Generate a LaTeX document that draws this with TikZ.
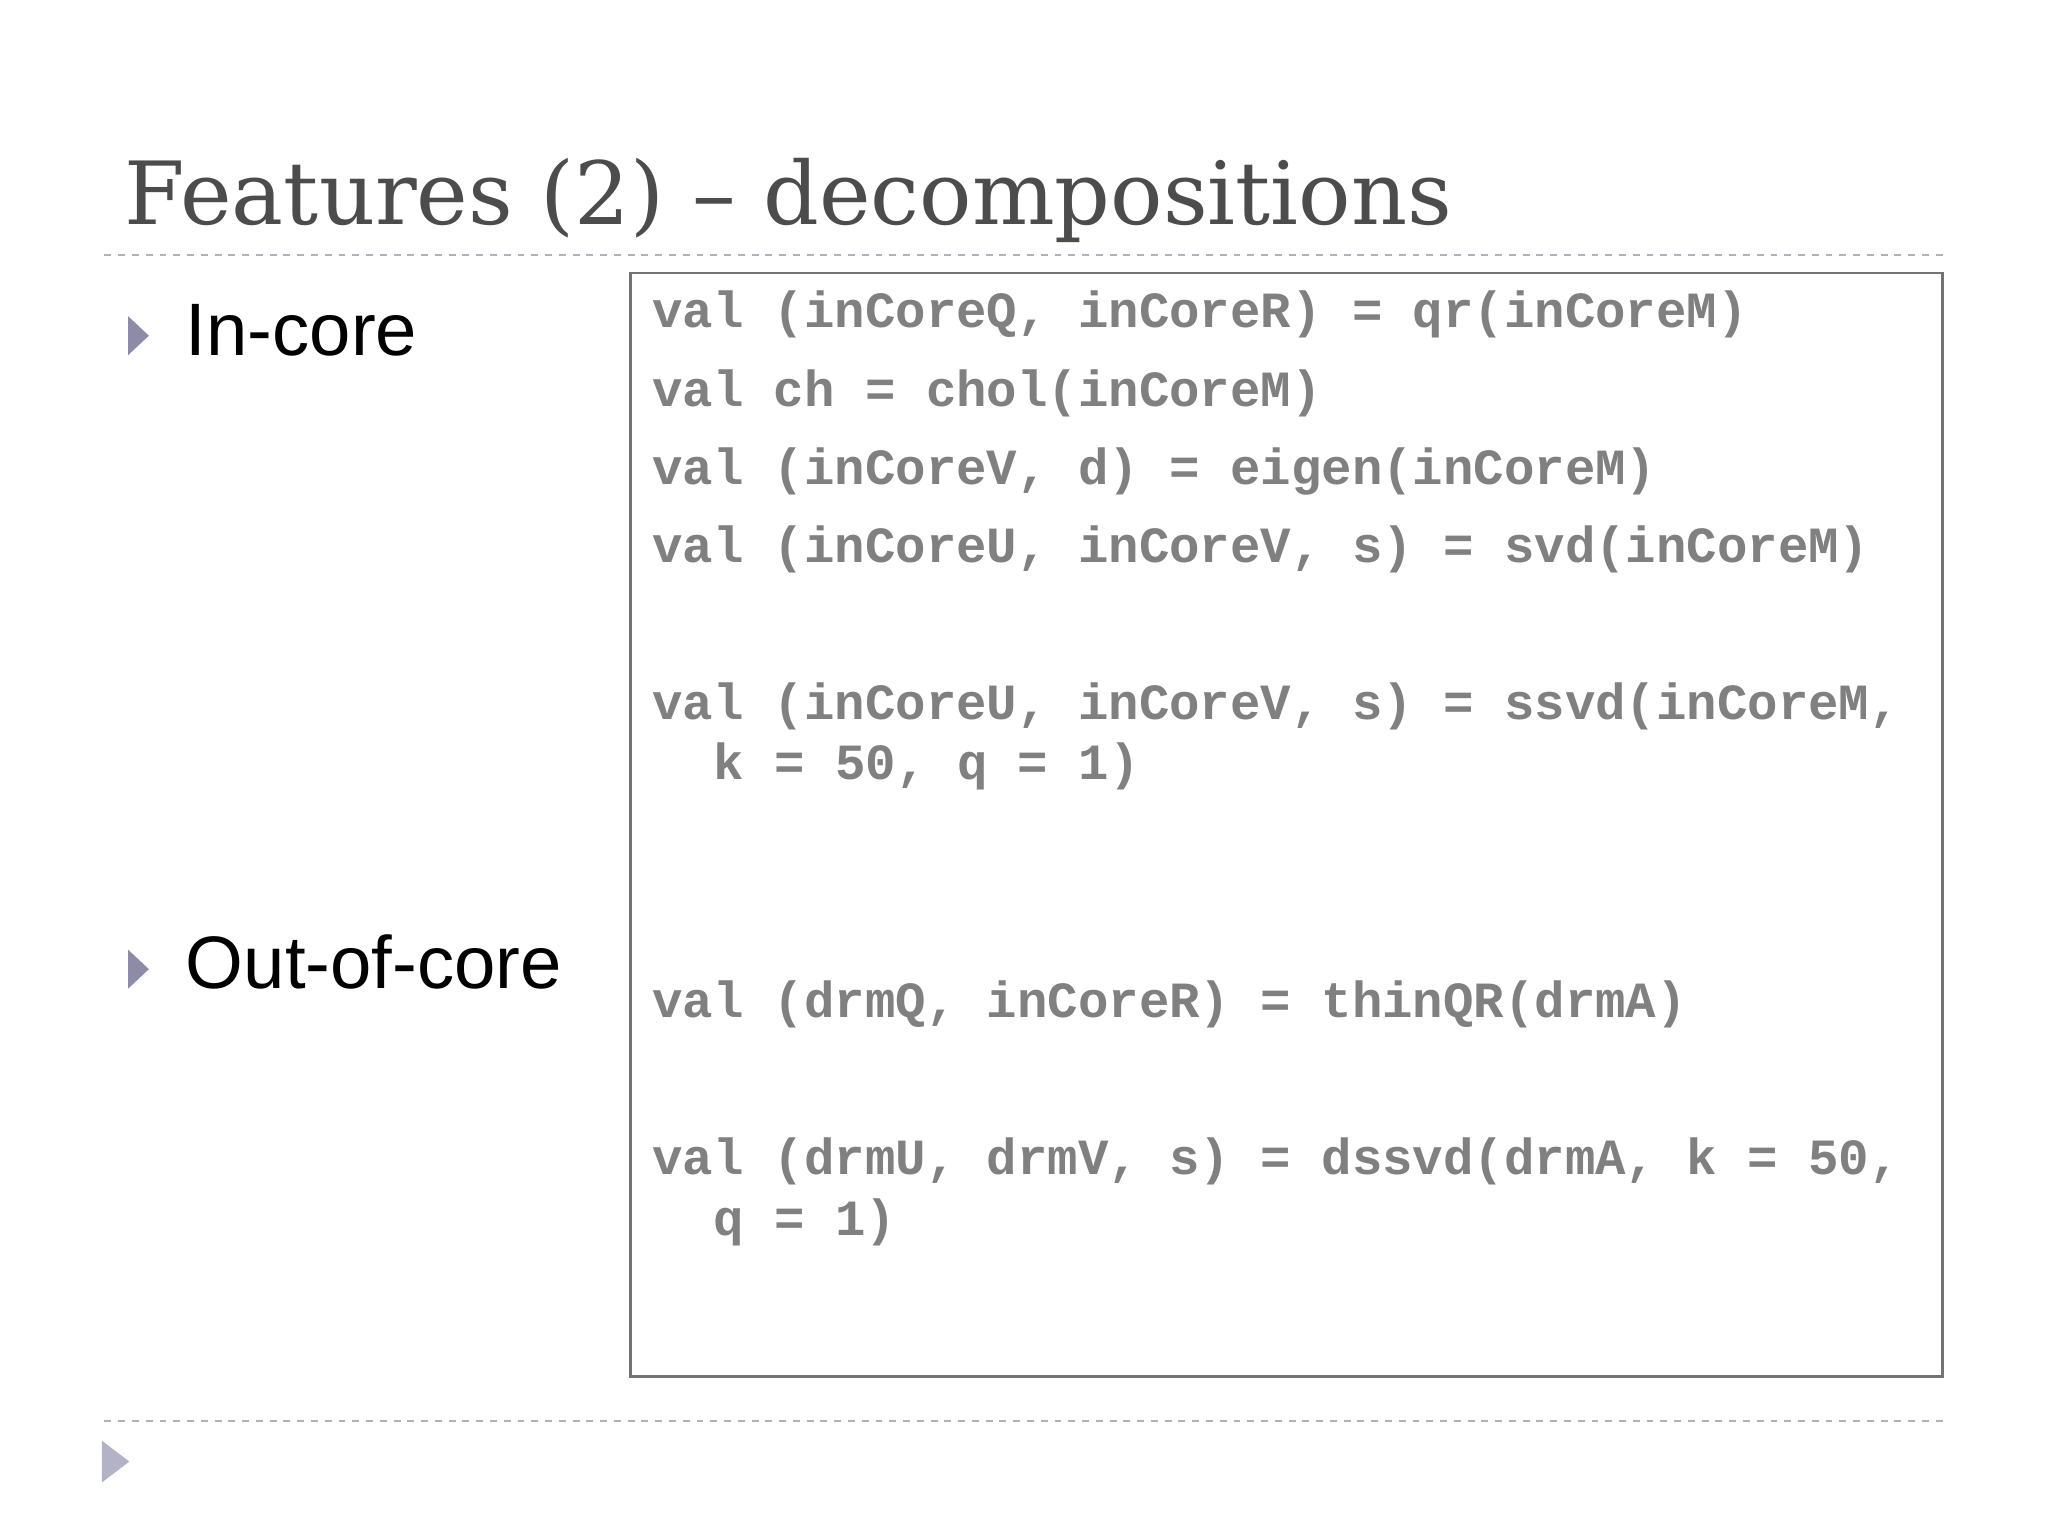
\documentclass[tikz,border=0pt]{standalone}
\usepackage{fontspec}
\setmainfont{Liberation Serif}
\newfontfamily\titlefont{DejaVu Serif}
\setsansfont{Liberation Sans}
\setmonofont{Liberation Mono}
\begin{document}
\begin{tikzpicture}[x=0.02cm,y=-0.02cm,
  code/.style={anchor=base west,inner sep=0,font=\fontsize{22.1}{26}\ttfamily\bfseries,text=black!50},
  bul/.style={anchor=base west,inner sep=0,font=\fontsize{32.4}{38}\sffamily},
  tri/.style={fill=blue!25!black!45},
  sep/.style={draw=blue!15!black!30,dashed,line width=1pt}]
\useasboundingbox (0,0) rectangle (1568,1176);
\fill[white] (0,0) rectangle (1568,1176);
\node[anchor=base west,inner sep=0,font=\titlefont\fontsize{38}{46}\selectfont,text=black!70] (title) at (95,172) {Features (2) – decompositions};
\coordinate (s1a) at (80,195); \coordinate (s1b) at (1490,195);
\draw[sep] (s1a) -- (s1b);
\coordinate (s2a) at (80,1088); \coordinate (s2b) at (1490,1088);
\draw[sep] (s2a) -- (s2b);
\draw[black!55,line width=1.2pt] (483,209) rectangle (1487,1054);
\fill[tri] (98,242) -- (114,257) -- (98,272) -- cycle;
\fill[tri] (98,727) -- (114,742) -- (98,757) -- cycle;
\fill[blue!30!black!30] (78,1103) -- (99,1119) -- (78,1135) -- cycle;
\node[bul] (b1) at (142,272) {In-core};
\node[bul] (b2) at (142,757) {Out-of-core};
\node[code] (c1) at (499,251) {val (inCoreQ, inCoreR) = qr(inCoreM)};
\node[code] (c2) at (499,311) {val ch = chol(inCoreM)};
\node[code] (c3) at (499,371) {val (inCoreV, d) = eigen(inCoreM)};
\node[code] (c4) at (499,431) {val (inCoreU, inCoreV, s) = svd(inCoreM)};
\node[code] (c5) at (499,551) {val (inCoreU, inCoreV, s) = ssvd(inCoreM,};
\node[code] (c6) at (546,597) {k = 50, q = 1)};
\node[code] (c7) at (499,779) {val (drmQ, inCoreR) = thinQR(drmA)};
\node[code] (c8) at (499,899) {val (drmU, drmV, s) = dssvd(drmA, k = 50,};
\node[code] (c9) at (546,946) {q = 1)};
\end{tikzpicture}
\end{document}
